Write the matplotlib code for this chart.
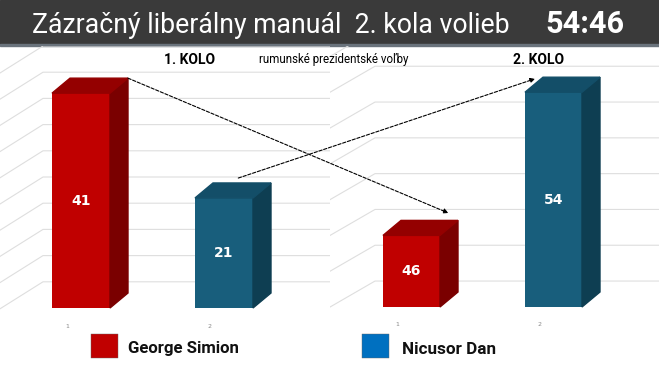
import matplotlib.pyplot as plt
import matplotlib.transforms as mtransforms
from matplotlib import font_manager
from matplotlib.patches import Polygon, Rectangle, ConnectionPatch

# data
round1_ticks = ["1", "2"]
round1_values = [41, 21]
round2_ticks = ["1", "2"]
round2_values = [46, 54]
round2_base = 42
candidates = ["George Simion", "Nicusor Dan"]
round1_grid = [5, 10, 15, 20, 25, 30, 35, 40, 45, 50]
round2_grid = [42, 44, 46, 48, 50, 52, 54, 56]

W, H = 659, 367
RED = ("#c00000", "#7a0000", "#940000")
BLUE = ("#185e7c", "#0e3e52", "#134e68")
bar_colors = [RED, BLUE]
legend_colors = ["#c00000", "#0070c0"]

names = {f.name for f in font_manager.fontManager.ttflist}
narrow = "Liberation Sans Narrow" if "Liberation Sans Narrow" in names else "Roboto"

fig = plt.figure(figsize=(W / 100, H / 100), dpi=100)
fig.patch.set_facecolor("white")


def px_box(x0, y0, x1, y1):
	return [x0 / W, 1 - y1 / H, (x1 - x0) / W, (y1 - y0) / H]


def fit_text(t, target_px, size):
	fig.canvas.draw()
	w = t.get_window_extent().width
	t.set_fontsize(size * target_px / w)
	return size * target_px / w


# title bar
fig.add_artist(Rectangle((0, 1 - 44 / H), 1, 44 / H, transform=fig.transFigure, color="#3a3a3a", zorder=0))
fig.add_artist(Rectangle((0, 1 - 46 / H), 1, 2 / H, transform=fig.transFigure, color="#6a737c", zorder=0))
t1 = fig.text(32 / W, 1 - 33 / H, "Zázračný liberálny manuál  2. kola volieb", color="white",
	family=narrow, fontsize=20, va="baseline", ha="left")
title_size = fit_text(t1, 476, 20)
fig.text(585 / W, 1 - 33 / H, "54:46", color="white", family=narrow, weight="bold",
	fontsize=title_size * 1.15, va="baseline", ha="center")


def draw_panel(ax, values, base, grid, ticks, ypx, xpx, depth, wall, width):
	ddx = depth[0] / xpx
	ddy = depth[1] / ypx
	wdx = wall[0] / xpx
	wdy = wall[1] / ypx
	xmin, xmax = ax.get_xlim()
	for v in grid:
		ax.plot([xmin, xmin + wdx, xmax], [v - wdy, v, v], color="#dedede", lw=0.8, zorder=1)
	xs = [1, 2]
	for x, v, (front, side, top) in zip(xs, values, bar_colors):
		ax.bar(x, v - base, bottom=base, width=width, color=front, zorder=3)
		r = x + width / 2
		l = x - width / 2
		ax.add_patch(Polygon([(r, base), (r, v), (r + ddx, v + ddy), (r + ddx, base + ddy)],
			closed=True, color=side, zorder=3))
		ax.add_patch(Polygon([(l, v), (r, v), (r + ddx, v + ddy), (l + ddx, v + ddy)],
			closed=True, color=top, zorder=3))
		ax.text(x, base + (v - base) / 2, str(v), color="white", fontsize=10, weight="bold",
			ha="center", va="center", zorder=4)
	tr = mtransforms.offset_copy(ax.transData, fig=fig, x=-14, y=-18, units="dots")
	for x, lab in zip(xs, ticks):
		ax.text(x, base, lab, transform=tr, fontsize=4.5, color="#8a8a8a", ha="center", va="center")
	ax.axis("off")
	return ddx, ddy


# left panel, 1st round (back wall sits 43 px right, 27 px up)
axL = fig.add_axes(px_box(0, 46, 330, 335))
axL.set_xlim(1 - 81 / 143, 1 - 81 / 143 + 330 / 143)
axL.set_ylim(-27 / 5.24, 262 / 5.24)
ddxL, ddyL = draw_panel(axL, round1_values, 0, round1_grid, round1_ticks,
	5.24, 143, (18, 15), (43, 27), 58 / 143)

# right panel, 2nd round
axR = fig.add_axes(px_box(330, 46, 659, 335))
axR.set_xlim(1 - 81.5 / 142, 1 - 81.5 / 142 + 329 / 142)
axR.set_ylim(round2_base - 28 / 17.9, round2_base + 261 / 17.9)
ddxR, ddyR = draw_panel(axR, round2_values, round2_base, [g + 1.45 for g in round2_grid], round2_ticks,
	17.9, 142, (18, 15), (45, 26), 57 / 142)

# headings
fig.text(190 / W, 1 - 60 / H, "1. KOLO", fontsize=10, weight="bold", ha="center", va="center", family="Roboto")
fig.text(334 / W, 1 - 60 / H, "rumunské prezidentské voľby", fontsize=8.3, ha="center", va="center", family="Roboto")
fig.text(539 / W, 1 - 60 / H, "2. KOLO", fontsize=10, weight="bold", ha="center", va="center", family="Roboto")

# dashed arrows between rounds
w1 = 58 / 143 / 2
arrow_style = dict(arrowstyle="-|>", linestyle=(0, (3, 1.5)), color="black", lw=0.8, mutation_scale=7)
fig.add_artist(ConnectionPatch((1 + w1 + ddxL, round1_values[0] + ddyL), (1 + 0.26, round2_values[0] + 1.25),
	coordsA=axL.transData, coordsB=axR.transData, zorder=5, **arrow_style))
fig.add_artist(ConnectionPatch((2 + 0.1, round1_values[1] + 3.8), (2 - 0.13, round2_values[1] + 0.75),
	coordsA=axL.transData, coordsB=axR.transData, zorder=5, **arrow_style))

# legend
for (x0, tx, tx1), name, col in zip([(91, 128, 239), (362, 402, 496)], candidates, legend_colors):
	fig.add_artist(Rectangle((x0 / W, 1 - 358 / H), 27 / W, 24 / H, transform=fig.transFigure,
		facecolor=col, edgecolor="#666666", lw=0.3))
	t = fig.text(tx / W, 1 - 349 / H, name, fontsize=12, weight="bold", ha="left", va="center",
		family=narrow, color="#111111")
	fit_text(t, tx1 - tx, 12)

fig.savefig("out.png", dpi=100)
